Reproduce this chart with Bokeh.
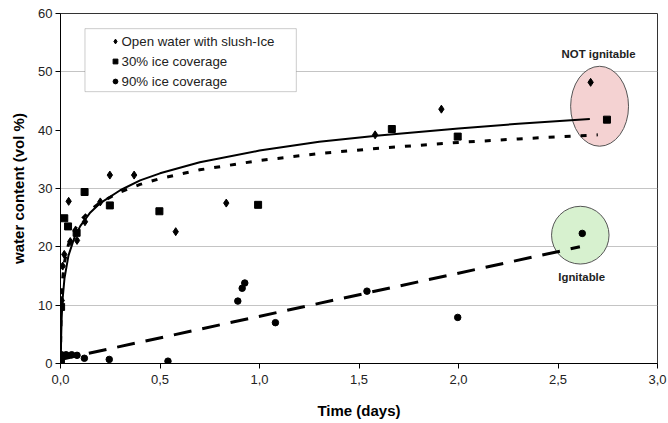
from bokeh.plotting import figure
from bokeh.models import (Range1d, FixedTicker, Legend, LegendItem, BoxAnnotation,
                          CustomJSTickFormatter)
from bokeh.embed import file_html
from bokeh.resources import INLINE
from bokeh.core.properties import value

# ---------------- data ----------------
series_names = ["Open water with slush-Ice", "30% ice coverage", "90% ice coverage"]

open_x = [0.003, 0.006, 0.011, 0.019, 0.049, 0.041, 0.083, 0.123, 0.200, 0.248,
          0.370, 0.579, 0.833, 1.581, 1.914, 2.664]
open_y = [1.5, 10.8, 16.7, 18.7, 20.9, 27.8, 21.1, 24.3, 27.7, 32.3,
          32.3, 22.6, 27.5, 39.2, 43.6, 48.2]

ice30_x = [0.002, 0.003, 0.019, 0.038, 0.081, 0.121, 0.248, 0.497, 0.993, 1.665,
           1.996, 2.746]
ice30_y = [0.3, 9.7, 24.9, 23.5, 22.4, 29.4, 27.1, 26.1, 27.2, 40.2,
           38.9, 41.8]

ice90_x = [0.001, 0.005, 0.028, 0.056, 0.083, 0.120, 0.245, 0.540, 0.891, 0.913,
           0.926, 1.080, 1.540, 1.996, 2.622]
ice90_y = [0.4, 1.5, 1.5, 1.5, 1.4, 0.9, 0.7, 0.4, 10.7, 12.9,
           13.8, 7.0, 12.4, 7.9, 22.3]

# trend curves
fit_open_x = [0.0015, 0.003, 0.006, 0.01, 0.02, 0.04, 0.07, 0.1, 0.15, 0.2, 0.3,
              0.4, 0.5, 0.7, 1.0, 1.3, 1.6, 2.0, 2.3, 2.66]
fit_open_y = [0.2, 4.1, 7.9, 10.8, 14.6, 18.5, 21.6, 23.6, 25.9, 27.5, 29.7,
              31.4, 32.6, 34.5, 36.5, 38.0, 39.1, 40.3, 41.1, 41.9]

fit_30_x = [0.0005, 0.001, 0.003, 0.006, 0.01, 0.02, 0.04, 0.07, 0.1, 0.15, 0.2,
            0.3, 0.4, 0.5, 0.7, 1.0, 1.3, 1.6, 2.0, 2.3, 2.7]
fit_30_y = [0.9, 4.0, 8.9, 12.0, 14.3, 17.4, 20.4, 22.9, 24.5, 26.3, 27.6,
            29.4, 30.7, 31.7, 33.2, 34.8, 36.0, 36.9, 37.9, 38.5, 39.2]

fit_90_x = [0.0, 2.61]
fit_90_y = [0.7, 20.0]

# zones
zone_x = [2.709, 2.612]
zone_y = [44.1, 22.0]
zone_w = [0.291, 0.289]
zone_h = [13.7, 9.9]
zone_fill = ["#f4d2d2", "#d7f1cf"]

note_x = [2.704, 2.619]
note_y = [53.1, 14.8]
note_text = ["NOT ignitable", "Ignitable"]

x_tick_values = [0.0, 0.5, 1.0, 1.5, 2.0, 2.5, 3.0]
x_tick_labels = ["0,0", "0,5", "1,0", "1,5", "2,0", "2,5", "3,0"]
y_tick_values = [0, 10, 20, 30, 40, 50, 60]
y_grid_values = [10, 20, 30, 50]

FONT = "Liberation Sans"

p = figure(width=668, height=423, output_backend="svg", toolbar_location=None,
           x_range=Range1d(0, 3), y_range=Range1d(0, 60),
           min_border_left=60, min_border_right=11, min_border_top=13,
           min_border_bottom=60)
p.background_fill_color = "white"
p.border_fill_color = "white"
p.outline_line_color = "#333333"
p.outline_line_width = 1

# grid
p.xgrid.visible = False
p.ygrid.ticker = FixedTicker(ticks=y_grid_values)
p.ygrid.grid_line_color = "#c4c4c4"
p.ygrid.grid_line_width = 1

# axes
for ax in (p.xaxis[0], p.yaxis[0]):
    ax.axis_line_color = "black"
    ax.major_tick_line_color = "black"
    ax.major_tick_out = 5
    ax.major_tick_in = 0
    ax.minor_tick_line_color = None
    ax.major_label_text_font = FONT
    ax.major_label_text_font_size = "13px"
    ax.major_label_text_color = "#222222"
    ax.axis_label_text_font = FONT
    ax.axis_label_text_font_size = "15px"
    ax.axis_label_text_font_style = "bold"
    ax.axis_label_text_color = "black"

p.xaxis.ticker = FixedTicker(ticks=x_tick_values)
p.xaxis.formatter = CustomJSTickFormatter(args=dict(vals=x_tick_values, labs=x_tick_labels), code="""
    for (let i = 0; i < vals.length; i++) { if (Math.abs(vals[i] - tick) < 1e-9) return labs[i]; }
    return '';
""")
p.yaxis.ticker = FixedTicker(ticks=y_tick_values)
p.xaxis.axis_label = "Time (days)"
p.yaxis.axis_label = "water content (vol %)"
p.xaxis.major_label_standoff = 6
p.yaxis.major_label_standoff = 3
p.xaxis.axis_label_standoff = 15
p.yaxis.axis_label_standoff = 8

# zones
p.ellipse(x=zone_x, y=zone_y, width=zone_w, height=zone_h, fill_color=zone_fill,
          line_color="#555555", line_width=1)

# trend lines
p.line(fit_open_x, fit_open_y, line_color="black", line_width=2)
p.line(fit_30_x, fit_30_y, line_color="black", line_width=3, line_dash="6 10")
p.line(fit_90_x, fit_90_y, line_color="black", line_width=3, line_dash="18 11")

# markers
r_open = p.scatter(open_x, open_y, marker="diamond", size=8, color="black")
r_30 = p.scatter(ice30_x, ice30_y, marker="square", size=7, color="black")
r_90 = p.scatter(ice90_x, ice90_y, marker="circle", size=6.5, color="black")

# notes
p.text(x=note_x, y=note_y, text=note_text, text_font=value(FONT), text_font_size="11.4px",
       text_font_style="bold", text_color="#222222", text_align="center",
       text_baseline="middle")

# legend frame + legend
box = BoxAnnotation(left=0.123, right=1.185, top=57.4, bottom=46.6,
                    fill_color="white", fill_alpha=1, line_color="#555555", line_width=1)
p.add_layout(box)

legend = Legend(items=[LegendItem(label=series_names[0], renderers=[r_open]),
                       LegendItem(label=series_names[1], renderers=[r_30]),
                       LegendItem(label=series_names[2], renderers=[r_90])],
                location=(48.5, 272), padding=0, margin=0, spacing=0,
                glyph_width=12, glyph_height=20, label_height=20, label_standoff=1,
                border_line_alpha=0, background_fill_alpha=0,
                label_text_font=FONT, label_text_font_size="13.3px",
                label_text_color="#222222")
p.add_layout(legend)

open("out.html", "w").write(file_html(p, INLINE))
